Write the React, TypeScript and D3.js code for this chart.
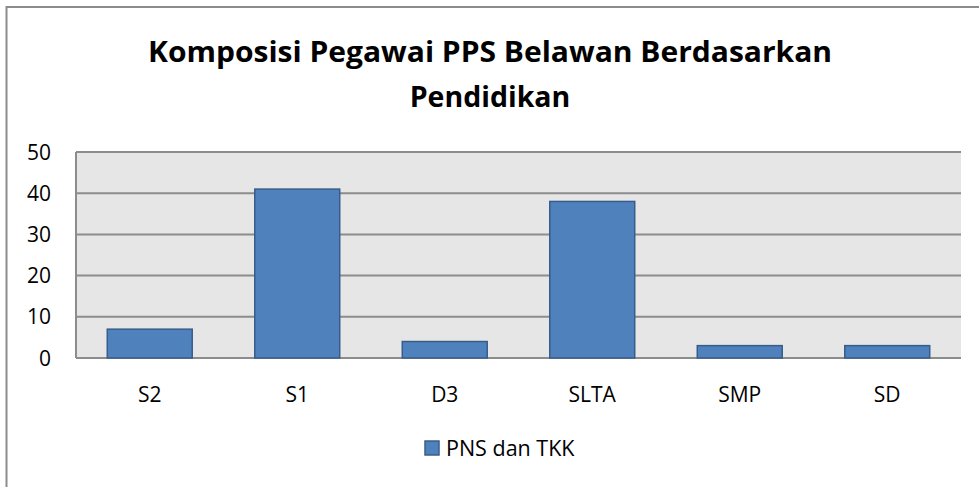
import React from 'react';
import * as d3 from 'd3';

const categories = ['S2', 'S1', 'D3', 'SLTA', 'SMP', 'SD'];
const values = [7, 41, 4, 38, 3, 3];
const yTicks = [0, 10, 20, 30, 40, 50];
const seriesName = 'PNS dan TKK';
const titleLines = ['Komposisi Pegawai PPS Belawan Berdasarkan', 'Pendidikan'];

const W = 979;
const H = 487;
const plot = { left: 76, right: 961, top: 152, bottom: 358 };
const FONT = '"Open Sans", Lato, sans-serif';

export default function App() {
  const x = d3.scaleBand().domain(categories).range([plot.left, plot.right]).padding(0);
  const y = d3.scaleLinear().domain([0, 50]).range([plot.bottom, plot.top]);
  const barW = x.bandwidth() * 0.576;

  return (
    <svg width={W} height={H} style={{ position: 'absolute', left: 0, top: 0, background: '#fff' }}>
      <rect x={6.5} y={7} width={W} height={H} fill="#fff" stroke="#8c8c8c" strokeWidth={2} />
      {titleLines.map((t, i) => (
        <text key={i} x={490} y={62 + i * 45} textAnchor="middle" fontFamily={FONT}
          fontWeight="bold" fontSize={28.5} fill="#000"
          textLength={i === 0 ? 684 : undefined} lengthAdjust="spacingAndGlyphs">{t}</text>
      ))}
      <rect x={plot.left} y={plot.top} width={plot.right - plot.left} height={plot.bottom - plot.top} fill="#e6e6e6" />
      <line x1={plot.left} x2={plot.left} y1={plot.top} y2={plot.bottom} stroke="#8c8c8c" strokeWidth={2} />
      {yTicks.map(t => (
        <g key={t}>
          <line x1={plot.left} x2={plot.right} y1={y(t)} y2={y(t)} stroke="#8c8c8c" strokeWidth={2} />
          <text x={51} y={y(t) + 7.5} textAnchor="end" fontFamily={FONT} fontSize={21} fill="#000">{t}</text>
        </g>
      ))}
      {categories.map((c, i) => {
        const cx = (x(c) as number) + x.bandwidth() / 2;
        return (
          <g key={c}>
            <rect x={cx - barW / 2} y={y(values[i])} width={barW} height={y(0) - y(values[i])}
              fill="#4f81bd" stroke="#385d8a" strokeWidth={1.5} />
            <text x={cx} y={402} textAnchor="middle" fontFamily={FONT} fontSize={21} fill="#000">{c}</text>
          </g>
        );
      })}
      <rect x={425} y={441} width={14} height={14} fill="#4f81bd" stroke="#385d8a" strokeWidth={1.5} />
      <text x={446} y={455.5} fontFamily={FONT} fontSize={21.5} fill="#000">{seriesName}</text>
    </svg>
  );
}
